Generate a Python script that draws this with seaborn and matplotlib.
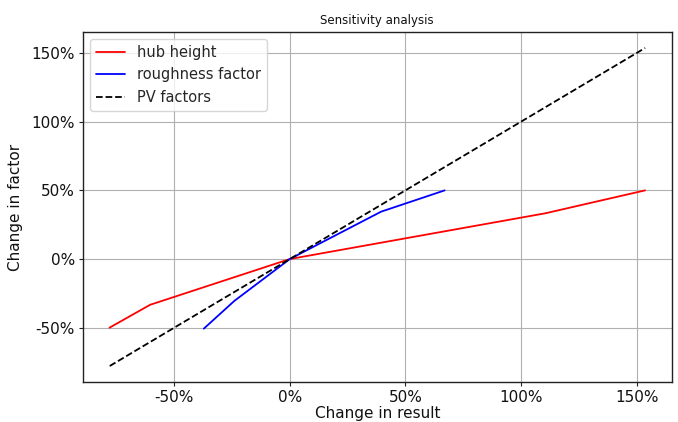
import matplotlib
matplotlib.use("Agg")
import matplotlib.pyplot as plt
import matplotlib.ticker as mticker
import seaborn as sns

# change in result (x) vs change in factor (y), in percent
hub_result = [-78.0, -60.4, 0.0, 110.5, 153.7]
hub_factor = [-50.0, -33.3, 0.0, 33.3, 50.0]

rough_result = [-37.2, -24.0, 0.0, 39.5, 67.0]
rough_factor = [-50.7, -30.5, 0.0, 34.5, 50.0]

pv_result = [-77.9, -50.0, 0.0, 50.0, 100.0, 153.7]
pv_factor = [-77.9, -50.0, 0.0, 50.0, 100.0, 153.7]

sns.set_style("ticks", {"axes.grid": True, "grid.color": "#b0b0b0",
                        "axes.edgecolor": "#222222"})
plt.rcParams["font.family"] = ["DejaVu Sans"]

fig = plt.figure(figsize=(6.78, 4.22), dpi=100)
ax = fig.add_axes([0.122, 0.095, 0.869, 0.829])

sns.lineplot(x=hub_result, y=hub_factor, color="red", lw=1.3,
             label="hub height", sort=False, ax=ax)
sns.lineplot(x=rough_result, y=rough_factor, color="blue", lw=1.3,
             label="roughness factor", sort=False, ax=ax)
sns.lineplot(x=pv_result, y=pv_factor, color="black", lw=1.3,
             linestyle="--", label="PV factors", sort=False, ax=ax)

ax.xaxis.set_major_locator(mticker.MultipleLocator(50))
ax.yaxis.set_major_locator(mticker.MultipleLocator(50))
pct = mticker.FuncFormatter(lambda v, _: f"{v + 0:.0f}%")
ax.xaxis.set_major_formatter(pct)
ax.yaxis.set_major_formatter(pct)
ax.tick_params(labelsize=11, length=3, pad=2.5, color="#222222",
               labelcolor="#111111")
ax.set_xlabel("Change in result", fontsize=11, labelpad=1, color="#111111")
ax.set_ylabel("Change in factor", fontsize=11, labelpad=6, color="#111111")
ax.set_title("Sensitivity analysis", fontsize=8.5, color="#111111")
for s in ax.spines.values():
    s.set_linewidth(1.0)
ax.legend(loc="upper left", fontsize=10.5, frameon=True)

fig.savefig("out.png", dpi=100)
plt.close(fig)
